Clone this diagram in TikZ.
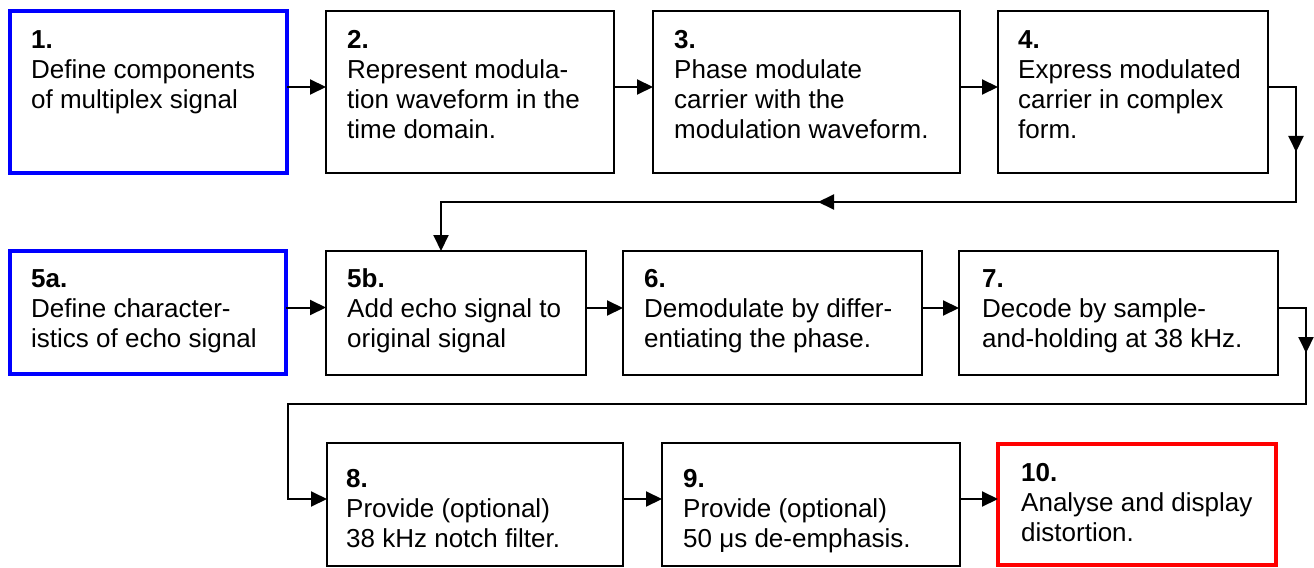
\documentclass[tikz,border=0pt]{standalone}
\usepackage{fontspec}
\setmainfont{Liberation Sans}
\usetikzlibrary{arrows.meta,fit}
\newcommand{\hdstrut}{\rule{0pt}{20bp}}
\begin{document}
\begin{tikzpicture}[x=1bp,y=-1bp,
  box/.style={draw=black,line width=2.2bp,inner sep=0pt,outer sep=0pt},
  bluebox/.style={box,draw=blue,line width=4bp},
  redbox/.style={box,draw=red,line width=4bp},
  txt/.style={anchor=north west,align=left,inner sep=0pt,font=\fontsize{26bp}{30bp}\selectfont},
  conn/.style={line width=2bp},
  arr/.style={conn,-{Triangle[length=16bp,width=15bp]}},
]
\useasboundingbox (0,0) rectangle (1314,568);
% row 1
\node[bluebox,fit={(10,11)(287,173)}] (b1) {};
\node[box,fit={(326,11)(614,173)}] (b2) {};
\node[box,fit={(653,11)(960,173)}] (b3) {};
\node[box,fit={(998,11)(1268,173)}] (b4) {};
% row 2
\node[bluebox,fit={(10,251)(286,374)}] (b5a) {};
\node[box,fit={(326,251)(586,375)}] (b5b) {};
\node[box,fit={(623,251)(922,375)}] (b6) {};
\node[box,fit={(959,251)(1278,375)}] (b7) {};
% row 3
\node[box,fit={(327,443)(623,566)}] (b8) {};
\node[box,fit={(662,443)(960,566)}] (b9) {};
\node[redbox,fit={(998,444)(1276,565)}] (b10) {};
% texts
\node[txt] (t1) at (31,28) {\hdstrut\textbf{1.}\\Define components\\of multiplex signal};
\node[txt] (t2) at (347,28) {\hdstrut\textbf{2.}\\Represent modula-\\tion waveform in the\\time domain.};
\node[txt] (t3) at (674,28) {\hdstrut\textbf{3.}\\Phase modulate\\carrier with the\\modulation waveform.};
\node[txt] (t4) at (1018,28) {\hdstrut\textbf{4.}\\Express modulated\\carrier in complex\\form.};
\node[txt] (t5a) at (31,267) {\hdstrut\textbf{5a.}\\Define character-\\istics of echo signal};
\node[txt] (t5b) at (347,267) {\hdstrut\textbf{5b.}\\Add echo signal to\\original signal};
\node[txt] (t6) at (644,267) {\hdstrut\textbf{6.}\\Demodulate by differ-\\entiating the phase.};
\node[txt] (t7) at (982,267) {\hdstrut\textbf{7.}\\Decode by sample-\\and-holding at 38 kHz.};
\node[txt] (t8) at (346,467) {\hdstrut\textbf{8.}\\Provide (optional)\\38 kHz notch filter.};
\node[txt] (t9) at (683,467) {\hdstrut\textbf{9.}\\Provide (optional)\\50 μs de-emphasis.};
\node[txt] (t10) at (1021,461) {\hdstrut\textbf{10.}\\Analyse and display\\distortion.};
% row arrows
\draw[arr] ([yshift=5bp]b1.east) -- ([yshift=5bp]b1.east -| b2.west);
\draw[arr] ([yshift=5bp]b2.east) -- ([yshift=5bp]b2.east -| b3.west);
\draw[arr] ([yshift=5bp]b3.east) -- ([yshift=5bp]b3.east -| b4.west);
\draw[arr] ([yshift=5bp]b5a.east) -- ([yshift=5bp]b5a.east -| b5b.west);
\draw[arr] ([yshift=5bp]b5b.east) -- ([yshift=5bp]b5b.east -| b6.west);
\draw[arr] ([yshift=5bp]b6.east) -- ([yshift=5bp]b6.east -| b7.west);
\draw[arr] ([yshift=5.5bp]b8.east) -- ([yshift=5.5bp]b8.east -| b9.west);
\draw[arr] ([yshift=5.5bp]b9.east) -- ([yshift=5.5bp]b9.east -| b10.west);
% 4 -> 5b
\coordinate (k1) at (1296,202);
\draw[arr] ([yshift=5bp]b4.east) -| (k1) -| ([xshift=-15bp]b5b.north);
\coordinate (m1) at (1296,152);
\draw[arr] ([yshift=14bp]m1) -- (m1);
\coordinate (m2) at (818,202);
\draw[arr] ([xshift=14bp]m2) -- (m2);
% 7 -> 8
\coordinate (k2) at (1306,404);
\coordinate (k3) at (288,404);
\draw[arr] ([yshift=5bp]b7.east) -| (k2) -- (k3) |- ([yshift=5.5bp]b8.west);
\coordinate (m3) at (1306,353);
\draw[arr] ([yshift=14bp]m3) -- (m3);
\end{tikzpicture}
\end{document}
